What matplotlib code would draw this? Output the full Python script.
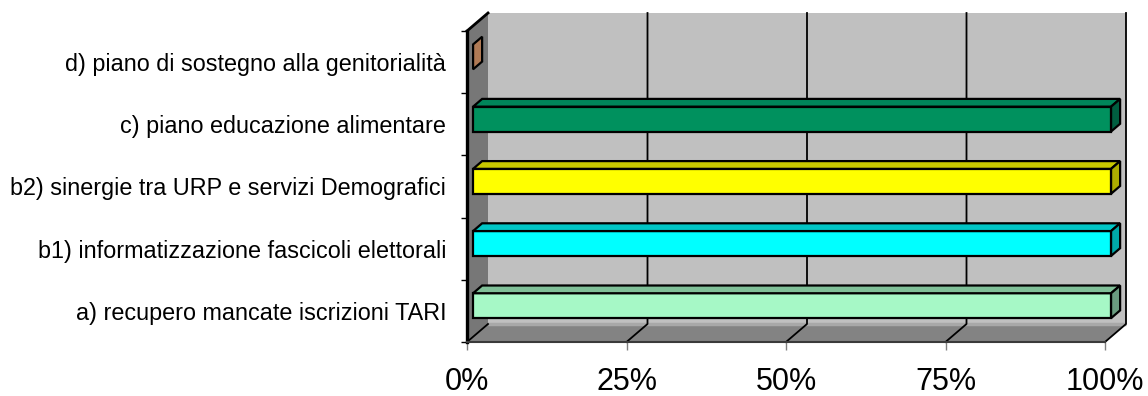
import matplotlib
matplotlib.use("Agg")
import matplotlib.pyplot as plt
from matplotlib.patches import Polygon

plt.rcParams['font.family'] = ['Liberation Sans', 'DejaVu Sans']

# ---- data ----
categories = [
    "a) recupero mancate iscrizioni TARI",
    "b1) informatizzazione fascicoli elettorali",
    "b2) sinergie tra URP e servizi Demografici",
    "c) piano educazione alimentare",
    "d) piano di sostegno alla genitorialità",
]
values = [100, 100, 100, 100, 0]
front_colors = ["#A6F8C6", "#00FFFF", "#FFFF00", "#00915E", "#C88A62"]
top_colors = ["#80C098", "#00C6C6", "#C8C800", "#00855A", "#B07A55"]
side_colors = ["#6A9C80", "#00A8A8", "#ACAC00", "#005E40", "#B07A55"]
xticks = [0, 25, 50, 75, 100]
xtick_labels = ["0%", "25%", "50%", "75%", "100%"]

W, H = 1148, 396
fig = plt.figure(figsize=(W / 100, H / 100), dpi=100)
ax = fig.add_axes([467 / W, 54 / H, 638 / W, 311 / H])
ax.set_xlim(0, 100)
ax.set_ylim(0, len(categories))
ax.patch.set_visible(False)
for s in ax.spines.values():
    s.set_visible(False)

# depth offset (pixels) converted to data units
DX, DY = 21, 18
ddx = DX * 100 / (638)
ddy = DY * len(categories) / 311


def P(x, y, f):
    return (x + f * ddx, y + f * ddy)


def poly(pts, fc, ec="none", lw=0, z=1):
    ax.add_patch(Polygon(pts, closed=True, facecolor=fc, edgecolor=ec,
                         linewidth=lw, zorder=z, clip_on=False,
                         joinstyle="miter"))


n = len(categories)
# back wall
poly([P(0, 0, 1), P(100, 0, 1), P(100, n, 1), P(0, n, 1)], "#C0C0C0", z=1)
# side wall
poly([P(0, 0, 0), P(0, n, 0), P(0, n, 1), P(0, 0, 1)], "#777777", z=2)
# floor
poly([P(0, 0, 0), P(100, 0, 0), P(100, 0, 1), P(0, 0, 1)], "#838383", z=2)
# light strip at base of back wall
b0, b1 = P(0, 0, 1), P(100, 0, 1)
ax.plot([b0[0], b1[0]], [b0[1], b1[1]], color="#A8A8A8", lw=2.5, zorder=2.5,
        clip_on=False, solid_capstyle="butt")

# gridlines on floor and back wall
for x in xticks[1:]:
    a, b, c = P(x, 0, 0), P(x, 0, 1), P(x, n, 1)
    ax.plot([a[0], b[0], c[0]], [a[1], b[1], c[1]], color="black", lw=1.3,
            zorder=3, clip_on=False)
# 0% floor diagonal and side-wall top edge
a, b = P(0, 0, 0), P(0, 0, 1)
ax.plot([a[0], b[0]], [a[1], b[1]], color="black", lw=1.3, zorder=3, clip_on=False)
a, b = P(0, n, 0), P(0, n, 1)
ax.plot([a[0], b[0]], [a[1], b[1]], color="black", lw=2, zorder=3, clip_on=False)
# front axis lines
ax.plot([0, 0], [0, n], color="black", lw=2.4, zorder=4, clip_on=False)
ax.plot([0, 100], [0, 0], color="#3A3A3A", lw=1.5, zorder=4, clip_on=False)

# bars
h = 0.40
f0, f1 = 0.29, 0.72
for i, v in enumerate(values):
    yc = i + 0.5
    y0, y1 = yc - h / 2, yc + h / 2
    if v > 0:
        poly([P(0, y0, f0), P(v, y0, f0), P(v, y1, f0), P(0, y1, f0)],
             front_colors[i], "black", 1.6, z=5)
        poly([P(0, y1, f0), P(v, y1, f0), P(v, y1, f1), P(0, y1, f1)],
             top_colors[i], "black", 1.6, z=5)
    poly([P(v, y0, f0), P(v, y1, f0), P(v, y1, f1), P(v, y0, f1)],
         side_colors[i], "black", 1.6, z=5)

# ticks and labels
ax.set_xticks(xticks)
ax.set_xticklabels(xtick_labels)
ax.tick_params(axis="x", which="major", direction="out", length=6,
               width=1, color="#808080", labelsize=22, pad=12)
ax.set_yticks(range(n + 1))
ax.set_yticklabels([""] * (n + 1))
ax.tick_params(axis="y", which="major", direction="out", length=4,
               width=1, color="black")
ax.set_yticks([i + 0.5 for i in range(n)], minor=True)
ax.set_yticklabels(categories, minor=True)
ax.tick_params(axis="y", which="minor", length=0, labelsize=16.8, pad=15)

fig.savefig("out.png", dpi=100)
